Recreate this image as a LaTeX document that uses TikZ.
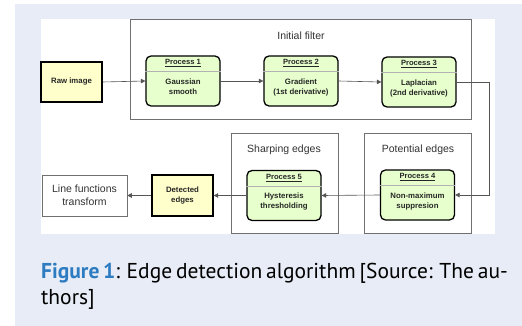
\documentclass[tikz,border=0pt]{standalone}
\usepackage{fontspec}
\setmainfont{Liberation Sans}
\newfontfamily\capfont{PT Sans}
\usetikzlibrary{arrows.meta,calc}
\definecolor{panel}{HTML}{E7ECF6}
\definecolor{procgreen}{HTML}{E6FFCC}
\definecolor{rawyellow}{HTML}{FFFFCC}
\definecolor{figblue}{HTML}{2D7CC1}
\definecolor{framegray}{HTML}{707070}
\definecolor{linegray}{HTML}{555555}
\newcommand\procbox[6]{%
  \node[proc] (#1) at (#2,#3) {};
  \node[ptitle] at ($(#1.north)+(0,8)$) {\underline{#4}};
  \draw[sepline] ($(#1.north west)+(0,16)$) -- ($(#1.north east)+(0,16)$);
  \node[pbody] at ($(#1.center)+(0,#6)$) {#5};}
\begin{document}
\begin{tikzpicture}[x=1pt,y=-1pt,
  proc/.style={draw=black, line width=1.3pt, rounded corners=5pt, fill=procgreen, minimum width=74pt, minimum height=50pt, inner sep=0pt},
  ptitle/.style={font=\bfseries\fontsize{7.6}{8}\selectfont, text=black!85, inner sep=0pt},
  pbody/.style={font=\bfseries\fontsize{7.8}{10}\selectfont, text=black!85, align=center, inner sep=0pt},
  sepline/.style={draw=black!30, line width=0.6pt},
  rawbox/.style={draw=black, line width=1.3pt, fill=rawyellow, inner sep=0pt, font=\bfseries\fontsize{7.8}{10}\selectfont, align=center, text=black!85},
  frame/.style={draw=framegray, line width=0.6pt},
  flabel/.style={font=\fontsize{10.5}{12}\selectfont, text=black!80, inner sep=0pt},
  conn/.style={draw=linegray, line width=0.6pt, -{Triangle[width=4.5pt,length=4.5pt]}}
]
\useasboundingbox (0,0) rectangle (522,326);
\fill[white] (0,0) rectangle (522,326);
\fill[panel] (15,4) rectangle (522,326);
\fill[white] (41,19) rectangle (495,234);

% containers
\node[frame, minimum width=341pt, minimum height=100pt, inner sep=0pt] (initf) at (300.5,69) {};
\node[flabel] (initl) at (301,36) {Initial filter};
\node[frame, minimum width=107pt, minimum height=100pt, inner sep=0pt] (sharpf) at (284.5,183) {};
\node[flabel] (sharpl) at (284,149.5) {Sharping edges};
\node[frame, minimum width=107pt, minimum height=100pt, inner sep=0pt] (potf) at (417.5,183) {};
\node[flabel] (potl) at (418,149.5) {Potential edges};

% nodes
\node[rawbox, minimum width=61pt, minimum height=40pt] (raw) at (71.5,82) {Raw image};
\procbox{p1}{183}{81}{Process 1}{Gaussian\\smooth}{6}
\procbox{p2}{301}{81}{Process 2}{Gradient\\(1st derivative)}{6}
\procbox{p3}{419}{82}{Process 3}{Laplacian\\(2nd derivative)}{6}
\procbox{p4}{417.5}{195}{Process 4}{Non-maximum\\suppresion}{6}
\procbox{p5}{284}{195.5}{Process 5}{Hysteresis\\thresholding}{6}
\node[rawbox, minimum width=61pt, minimum height=41pt] (det) at (182.5,195.5) {Detected\\edges};
\node[draw=framegray, line width=0.6pt, fill=white, minimum width=85pt, minimum height=41pt, inner sep=0pt, font=\fontsize{10.5}{13}\selectfont, align=center, text=black!80] (linef) at (84.5,195.5) {Line functions\\transform};

% connectors
\coordinate (bend1) at (489,82);
\coordinate (bend2) at (489,195);
\draw[conn] (raw.east) -- (p1.west);
\draw[conn] (p1.east) -- (p2.west);
\draw[conn] (p2.east) -- (p3.west);
\draw[conn] (p3.east) -- (bend1) -- (bend2) -- (p4.east);
\draw[conn] (p4.west) -- (p5.east);
\draw[conn] (p5.west) -- (det.east);
\draw[conn] (det.west) -- (linef.east);

% caption
\node[anchor=base west, inner sep=0pt, font=\capfont\fontsize{21.5}{25}\selectfont] (cap1) at (41,278) {\hbox to 450pt{\textcolor{figblue}{\bfseries Figure 1}: Edge detection algorithm [Source: The au-}};
\node[anchor=base west, inner sep=0pt, font=\capfont\fontsize{21.5}{25}\selectfont] (cap2) at (41,304) {thors]};
\end{tikzpicture}
\end{document}
